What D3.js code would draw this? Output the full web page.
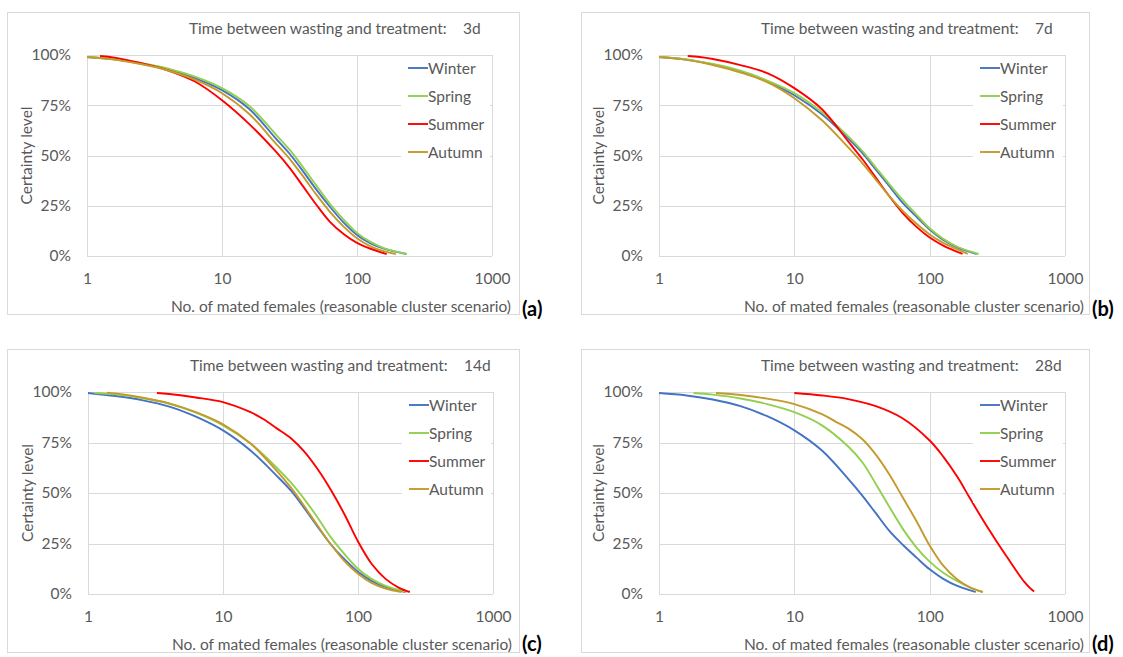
<!DOCTYPE html>
<html><head><meta charset="utf-8">
<script src="https://cdn.jsdelivr.net/npm/d3@7"></script>
<style>
body{margin:0;background:#fff}
svg{display:block}
text{font-family:Lato,"Open Sans",sans-serif;fill:#595959}
</style>
</head><body>
<svg id="chart" width="1123" height="657"></svg>
<script>
// ---------- data ----------
const seasons = ["Winter", "Spring", "Summer", "Autumn"];
const seasonColors = ["#4472C4", "#92D050", "#FF0000", "#C49A2C"];
const delays = ["3d", "7d", "14d", "28d"];
const panelLabels = ["(a)", "(b)", "(c)", "(d)"];
const xTicks = [1, 10, 100, 1000];
const yTicks = [0, 0.25, 0.5, 0.75, 1];
const titleText = "Time between wasting and treatment:";
const xTitle = "No. of mated females (reasonable cluster scenario)";
const yTitle = "Certainty level";

// [number of mated females, certainty %]
const winter3d = [[1,99],[1.6,97.8],[2.5,95.8],[4,92.8],[6.3,88.5],[10,82.5],[16,73],[25,58.5],[32,50.5],[40,42],[50,33],[63,24.5],[80,16.5],[100,10.5],[126,6.3],[160,3.5],[231,1]];
const spring3d = [[1,99],[1.6,97.9],[2.5,96],[4,93.2],[6.3,89.2],[10,83.5],[16,74.5],[25,60.5],[32,52.5],[40,44],[50,35],[63,26],[80,18],[100,11.5],[126,7],[160,3.8],[234,1]];
const summer3d = [[1.25,99.5],[1.6,98.7],[2.5,96],[4,92.3],[6.3,86.8],[10,77.5],[16,65.5],[25,52],[32,43.5],[40,34.5],[50,25.5],[63,17],[80,10.8],[100,6.5],[126,3.6],[166,1]];
const autumn3d = [[1,99],[1.6,97.7],[2.5,95.5],[4,92.3],[6.3,87.7],[10,81],[16,70.5],[25,56],[32,48],[40,39.5],[50,30.5],[63,22],[80,14.5],[100,8.8],[126,4.8],[160,2.3],[194,1]];

const winter7d = [[1,99],[1.6,97.7],[2.5,95.3],[4,91.8],[6.3,86.8],[10,80],[16,70.5],[25,58.5],[32,51],[40,43],[50,35],[63,26.5],[80,19.5],[100,13.2],[126,8],[160,4.3],[223,1]];
const spring7d = [[1,99],[1.6,97.8],[2.5,95.5],[4,92.2],[6.3,87.3],[10,81],[16,71.5],[25,59.5],[32,52],[40,44],[50,36],[63,28],[80,20.5],[100,13.8],[126,8.5],[160,4.6],[230,1]];
const summer7d = [[1.63,99.5],[2,99],[2.5,98],[4,95],[6.3,91],[10,83.5],[16,73],[25,57],[32,48],[40,39],[50,30],[63,21.5],[80,14.5],[100,9.2],[126,5.2],[175,1]];
const autumn7d = [[1,99],[1.6,97.6],[2.5,95],[4,91.3],[6.3,86.5],[10,78.5],[16,67.5],[25,54],[32,46],[40,38],[50,30],[63,22.5],[80,16],[100,10.7],[126,6.5],[160,3.3],[191,1]];

const winter14d = [[1,99.5],[1.6,98],[2.5,96],[4,92.8],[6.3,87.8],[10,81],[16,71],[25,58.5],[32,51],[40,42.5],[50,33.5],[63,24.5],[80,17],[100,11],[126,6.5],[160,3.5],[223,1]];
const spring14d = [[1.12,99.5],[1.6,98.8],[2.5,97],[4,94.2],[6.3,89.8],[10,83.5],[16,74.5],[25,62.5],[32,55],[40,47],[50,38],[63,28],[80,19.5],[100,12.5],[126,7.5],[160,4],[230,1]];
const summer14d = [[3.24,99.5],[4,99],[6.3,97.3],[10,95],[16,90],[20,86.5],[25,82],[32,77],[40,70.5],[50,62],[63,51.5],[80,39],[100,26],[126,15],[160,7.5],[200,3.2],[242,1]];
const autumn14d = [[1.38,99.7],[1.6,99.3],[2.5,97.3],[4,94.4],[6.3,90],[10,84],[16,74.5],[25,61],[32,52.5],[40,43.5],[50,34],[63,24.5],[80,16],[100,10],[126,5.5],[160,2.7],[210,1]];

const winter28d = [[1,99.5],[1.6,98.3],[2.5,96.3],[4,93],[6.3,88],[10,81],[16,71],[25,57],[32,48.5],[40,40],[50,31.5],[63,24.5],[80,18],[100,12.2],[126,7.5],[160,4],[219,1]];
const spring28d = [[1.8,99.5],[2.5,98.7],[4,96.8],[6.3,94],[10,90],[16,83.5],[25,73],[32,65],[40,54.5],[50,43.5],[63,32.5],[80,23],[100,16],[126,10.5],[160,6.3],[200,3.2],[247,1]];
const summer28d = [[10,99.5],[16,98.3],[25,96.5],[40,93],[63,87],[100,76],[126,68],[160,58],[200,47],[251,36],[316,25.5],[398,15.5],[447,10.5],[501,6],[550,3],[591,1.2]];
const autumn28d = [[2.64,99.5],[4,98.5],[6.3,96.7],[10,94],[16,89],[20,85.5],[25,82],[32,76.5],[40,69],[50,59.5],[63,48],[80,36],[100,24],[126,14],[160,7.2],[200,3.2],[247,1]];

const panelSeries = [
  [winter3d, spring3d, summer3d, autumn3d],
  [winter7d, spring7d, summer7d, autumn7d],
  [winter14d, spring14d, summer14d, autumn14d],
  [winter28d, spring28d, summer28d, autumn28d]
];

// ---------- layout ----------
const layout = [
  {box:[7,12,512,302],   plot:[87,55,405,201],  labelY:316},
  {box:[581,12,508,302], plot:[659,55,406,201], labelY:316},
  {box:[7,349,512,303],  plot:[88,392,405,202], labelY:651},
  {box:[581,349,508,303],plot:[659,392,406,202],labelY:651}
];

const svg = d3.select("#chart");
const grid = "#d9d9d9";
const fs = 15.5;

layout.forEach((L, i) => {
  const [bx, by, bw, bh] = L.box;
  const [px, py, pw, ph] = L.plot;
  const g = svg.append("g");

  g.append("rect").attr("x", bx + 0.5).attr("y", by + 0.5).attr("width", bw).attr("height", bh)
    .attr("fill", "#fff").attr("stroke", grid).attr("stroke-width", 1);

  const x = d3.scaleLog().domain([1, 1000]).range([px, px + pw]);
  const y = d3.scaleLinear().domain([0, 1]).range([py + ph, py]);

  // gridlines
  g.append("g").selectAll("line").data(yTicks).join("line")
    .attr("x1", px).attr("x2", px + pw)
    .attr("y1", d => Math.round(y(d)) + 0.5).attr("y2", d => Math.round(y(d)) + 0.5)
    .attr("stroke", grid).attr("stroke-width", 1);
  g.append("g").selectAll("line").data(xTicks).join("line")
    .attr("y1", py).attr("y2", py + ph)
    .attr("x1", d => Math.round(x(d)) + 0.5).attr("x2", d => Math.round(x(d)) + 0.5)
    .attr("stroke", grid).attr("stroke-width", 1);

  // axes (labels only)
  const ya = g.append("g").attr("transform", `translate(${px},0)`)
    .call(d3.axisLeft(y).tickValues(yTicks).tickFormat(d3.format(".0%")).tickSize(0).tickPadding(16));
  const xa = g.append("g").attr("transform", `translate(0,${py + ph})`)
    .call(d3.axisBottom(x).tickValues(xTicks).tickFormat(d3.format("d")).tickSize(0).tickPadding(17));
  [ya, xa].forEach(a => {
    a.select(".domain").remove();
    a.selectAll("text").attr("font-size", fs).attr("font-family", "Lato").attr("fill", "#595959");
  });

  // title
  g.append("text").attr("x", px + 102).attr("y", py - 21).attr("font-size", fs).text(titleText);
  g.append("text").attr("x", px + 376).attr("y", py - 21).attr("font-size", fs).text(delays[i]);

  // axis titles
  g.append("text").attr("transform", `translate(${px - 55},${py + ph / 2}) rotate(-90)`)
    .attr("text-anchor", "middle").attr("font-size", fs).text(yTitle);
  g.append("text").attr("x", px + pw + 19).attr("y", py + ph + 56)
    .attr("text-anchor", "end").attr("font-size", fs).text(xTitle);

  // panel label
  g.append("text").attr("x", bx + bw + 3).attr("y", L.labelY)
    .attr("font-family", "Liberation Sans, Arial, sans-serif").attr("font-weight", "bold")
    .attr("font-size", 20).style("fill", "#000").text(panelLabels[i]);

  // lines
  const line = d3.line().x(d => x(d[0])).y(d => y(d[1] / 100)).curve(d3.curveCatmullRom.alpha(0.5));
  panelSeries[i].forEach((s, k) => {
    g.append("path").datum(s).attr("d", line).attr("fill", "none")
      .attr("stroke", seasonColors[k]).attr("stroke-width", 1.9).attr("stroke-linejoin", "round");
  });

  // legend
  const lx = px + 314, ly = py + 13;
  g.append("rect").attr("x", lx).attr("y", py + 3).attr("width", pw - 316).attr("height", 108).attr("fill", "#fff");
  seasons.forEach((s, k) => {
    const yy = ly + k * 28;
    g.append("line").attr("x1", lx + 7).attr("x2", lx + 27).attr("y1", yy).attr("y2", yy)
      .attr("stroke", seasonColors[k]).attr("stroke-width", 1.9);
    g.append("text").attr("x", lx + 27).attr("y", yy + 5.5).attr("font-size", fs).text(s);
  });
});
</script>
</body></html>
